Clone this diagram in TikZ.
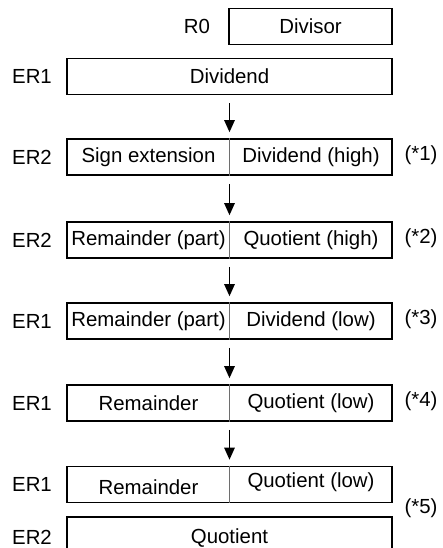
\documentclass[tikz,border=0pt]{standalone}
\usepackage{fontspec}
\setmainfont{Liberation Sans}
\usepackage{tikz}
\usetikzlibrary{arrows.meta,positioning}
\definecolor{ink}{HTML}{000000}
\definecolor{splitgray}{HTML}{6E6E6E}
\tikzset{
  regbox/.style={
    rectangle, draw=ink, line width=0.8pt,
    minimum width=162.5pt, minimum height=18pt,
    inner sep=0pt
  },
  halfbox/.style={
    rectangle, draw=ink, line width=0.8pt,
    minimum width=81.5pt, minimum height=18pt,
    inner sep=0pt
  },
  regtext/.style={font=\fontsize{10.2}{12}\selectfont, inner sep=0pt},
  reglabel/.style={font=\fontsize{10.2}{12}\selectfont, inner sep=0pt},
  note/.style={font=\fontsize{10.2}{12}\selectfont, inner sep=0pt},
  divider/.style={draw=splitgray, line width=0.5pt},
  steparrow/.style={
    -{Triangle[length=6pt,width=5.2pt]}, line width=0.7pt,
    shorten <=4pt, shorten >=3pt
  },
}
\begin{document}
\begin{tikzpicture}[x=0.5pt,y=-0.5pt]
    \useasboundingbox (0,0) rectangle (443,548);
    % divisor and dividend
    \node[halfbox] (divisor) at (310.5,26.5) {};
    \node[regtext] (divisort) at (divisor.center) {Divisor};
    \node[reglabel] (r0) at (197,26.5) {R0};
    \node[regbox] (dividend) at (229.5,76.5) {};
    \node[regtext] (dividendt) at (dividend.center) {Dividend};
    \node[reglabel] (er1a) at (32,76.5) {ER1};
    % step 1
    \node[regbox] (s1) at (229.5,157) {};
    \draw[divider] (s1.north) -- (s1.south);
    \node[regtext] (s1l) at (148.5,157) {Sign extension};
    \node[regtext] (s1r) at (311,157) {Dividend (high)};
    \node[reglabel] (er2a) at (32,157) {ER2};
    \node[note] (n1) at (421,155) {(*1)};
    % step 2
    \node[regbox] (s2) at (229.5,240) {};
    \draw[divider] (s2.north) -- (s2.south);
    \node[regtext] (s2l) at (148.5,240) {Remainder (part)};
    \node[regtext] (s2r) at (311,240) {Quotient (high)};
    \node[reglabel] (er2b) at (32,240) {ER2};
    \node[note] (n2) at (421,238) {(*2)};
    % step 3
    \node[regbox] (s3) at (229.5,321) {};
    \draw[divider] (s3.north) -- (s3.south);
    \node[regtext] (s3l) at (148.5,321) {Remainder (part)};
    \node[regtext] (s3r) at (311,321) {Dividend (low)};
    \node[reglabel] (er1b) at (32,321) {ER1};
    \node[note] (n3) at (421,319) {(*3)};
    % step 4
    \node[regbox] (s4) at (229.5,403) {};
    \draw[divider] (s4.north) -- (s4.south);
    \node[regtext] (s4l) at (148.5,403) {Remainder};
    \node[regtext] (s4r) at (311,403) {Quotient (low)};
    \node[reglabel] (er1c) at (32,403) {ER1};
    \node[note] (n4) at (421,401) {(*4)};
    % result
    \node[regbox] (s5) at (229.5,484.5) {};
    \draw[divider] (s5.north) -- (s5.south);
    \node[regtext] (s5l) at (148.5,487) {Remainder};
    \node[regtext] (s5r) at (311,482) {Quotient (low)};
    \node[reglabel] (er1d) at (32,484.5) {ER1};
    \node[regbox, minimum height=20pt] (s6) at (229.5,537) {};
    \node[regtext] (s6t) at (229.5,538) {Quotient};
    \node[reglabel] (er2c) at (32,537) {ER2};
    \node[note] (n5) at (421,508) {(*5)};
    % arrows
    \draw[steparrow] (dividend.south) -- (s1.north);
    \draw[steparrow] (s1.south) -- (s2.north);
    \draw[steparrow] (s2.south) -- (s3.north);
    \draw[steparrow] (s3.south) -- (s4.north);
    \draw[steparrow] (s4.south) -- (s5.north);
\end{tikzpicture}
\end{document}
